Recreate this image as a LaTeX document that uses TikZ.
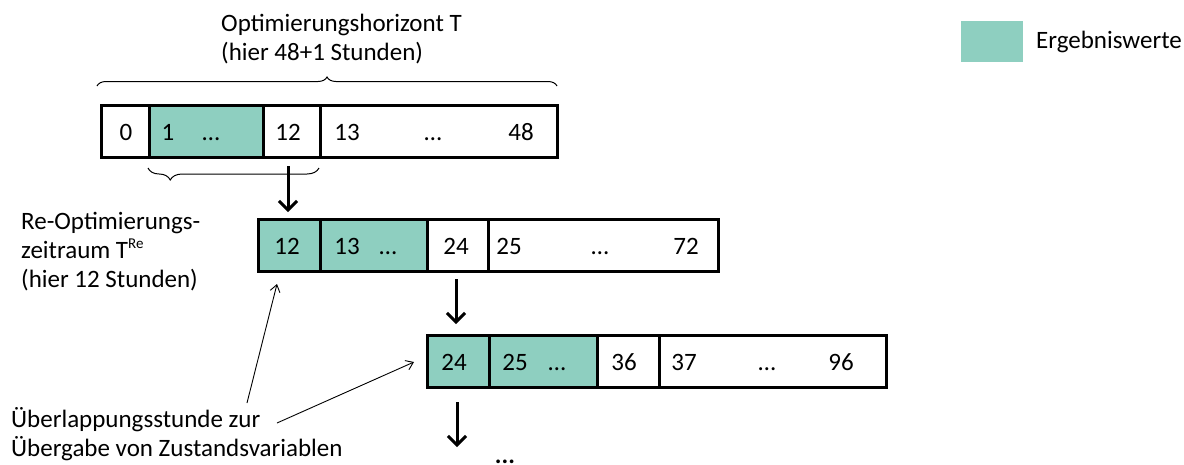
\documentclass[tikz,border=0pt]{standalone}
\usepackage{fontspec}
\setmainfont{Carlito}
\usetikzlibrary{arrows.meta,decorations.pathreplacing}
\definecolor{res}{RGB}{142,207,192}
\tikzset{
  cell/.style={draw=black,line width=3pt,anchor=north west,inner sep=0pt,minimum height=#1},
  cell/.default=52pt,
  num/.style={anchor=base,inner sep=0pt,font=\fontsize{25}{29}\selectfont},
  lbl/.style={inner sep=0pt,font=\fontsize{25}{29}\selectfont},
  bigarrow/.style={line width=3pt,-{Straight Barb[length=9pt,width=18pt,line width=3pt]}},
  thinarrow/.style={line width=0.9pt,-{Straight Barb[length=7pt,width=10pt,line width=0.9pt]}},
  bracestyle/.style={line width=1pt,decorate}
}
\begin{document}
\begin{tikzpicture}[x=1pt,y=-1pt]
\useasboundingbox (0,0) rectangle (1184,464);
% Row 1
\node[cell,minimum width=48pt] (r1a) at (100,104) {};
\node[cell,minimum width=114pt,fill=res] (r1b) at (148,104) {};
\node[cell,minimum width=57pt] (r1c) at (262,104) {};
\node[cell,minimum width=237pt] (r1d) at (319,104) {};
\node[num] at (126,140) {0};
\node[num] at (168,140) {1};
\node[num] at (211,140) {…};
\node[num] at (288,140) {12};
\node[num] at (347,140) {13};
\node[num] at (433,140) {…};
\node[num] at (521,140) {48};
% Row 2
\node[cell,minimum width=62pt,fill=res] (r2a) at (257,218) {};
\node[cell,minimum width=107pt,fill=res] (r2b) at (319,218) {};
\node[cell,minimum width=61pt] (r2c) at (426,218) {};
\node[cell,minimum width=230pt] (r2d) at (487,218) {};
\node[num] at (287,254) {12};
\node[num] at (347,254) {13};
\node[num] at (388,254) {…};
\node[num] at (456,254) {24};
\node[num] at (509,254) {25};
\node[num] at (600,254) {…};
\node[num] at (686,254) {72};
% Row 3
\node[cell,minimum width=62pt,fill=res] (r3a) at (426,334) {};
\node[cell,minimum width=108pt,fill=res] (r3b) at (488,334) {};
\node[cell,minimum width=62pt] (r3c) at (596,334) {};
\node[cell,minimum width=227pt] (r3d) at (658,334) {};
\node[num] at (454,370) {24};
\node[num] at (515,370) {25};
\node[num] at (557,370) {…};
\node[num] at (624,370) {36};
\node[num] at (684,370) {37};
\node[num] at (767,370) {…};
\node[num] at (841,370) {96};
% braces
\draw[bracestyle,decoration={brace,amplitude=9pt}] (97,86) -- (557,86);
\draw[bracestyle,decoration={brace,amplitude=12pt,mirror,aspect=0.13}] (148,168) -- (319,168);
% labels (anchor base = baseline of last line)
\node[lbl,align=left,anchor=base west] (hdr) at (221,60) {Optimierungshorizont T\\(hier 48+1 Stunden)};
\node[lbl,align=left,anchor=base west] (reopt) at (21,287) {Re-Optimierungs-\\zeitraum T\textsuperscript{\fontsize{15}{15}\selectfont Re}\\(hier 12 Stunden)};
\node[lbl,align=left,anchor=base west] (ovl) at (11,456) {Überlappungsstunde zur\\Übergabe von Zustandsvariablen};
% arrows between rows
\coordinate (a1s) at (288,166);
\coordinate (a1e) at (288,212);
\coordinate (a2s) at (456,279);
\coordinate (a2e) at (456,324);
\coordinate (a3s) at (457,402);
\coordinate (dots) at (457,447);
\draw[bigarrow] (a1s) -- (a1e);
\draw[bigarrow] (a2s) -- (a2e);
\draw[bigarrow] (a3s) -- (dots);
\node[lbl,anchor=base] (more) at (505,463) {\textbf{...}};
% thin connectors
\coordinate (o1) at (247,403);
\coordinate (o2) at (277,423);
\coordinate (t1) at (277,284);
\coordinate (t2) at (414,362);
\draw[thinarrow] (o1) -- (t1);
\draw[thinarrow] (o2) -- (t2);
% legend
\node[fill=res,minimum width=62pt,minimum height=41pt,anchor=north west,inner sep=0pt] (leg) at (961,21) {};
\node[lbl,anchor=base west] (legt) at (1036,48) {Ergebniswerte};
\end{tikzpicture}
\end{document}
